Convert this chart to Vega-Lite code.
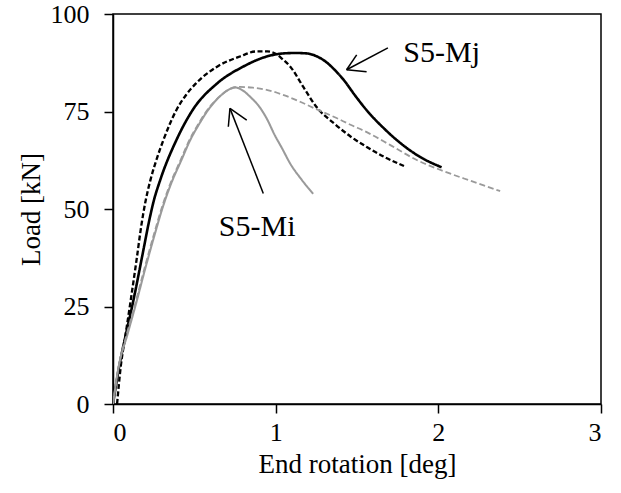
{
  "$schema": "https://vega.github.io/schema/vega-lite/v6.json",
  "width": 488,
  "height": 390,
  "autosize": {"type": "none"},
  "padding": {"left": 113, "top": 14, "right": 20, "bottom": 89},
  "background": "white",
  "config": {
    "view": {"stroke": "black", "strokeWidth": 1.5},
    "axis": {
      "grid": false,
      "domainColor": "black",
      "domainWidth": 1.5,
      "tickColor": "black",
      "tickWidth": 1.5,
      "tickSize": 9,
      "labelFont": "Liberation Serif",
      "labelFontSize": 26,
      "labelColor": "black",
      "titleFont": "Liberation Serif",
      "titleFontSize": 27,
      "titleFontWeight": "normal",
      "titleColor": "black"
    }
  },
  "datasets": {
    "curves": [
      {"series": "Mj test", "i": 0, "rot": 0.0, "load": 0},
      {"series": "Mj test", "i": 1, "rot": 0.037, "load": 9.4},
      {"series": "Mj test", "i": 2, "rot": 0.08, "load": 18},
      {"series": "Mj test", "i": 3, "rot": 0.12, "load": 25.5},
      {"series": "Mj test", "i": 4, "rot": 0.18, "load": 38},
      {"series": "Mj test", "i": 5, "rot": 0.22, "load": 46.5},
      {"series": "Mj test", "i": 6, "rot": 0.25, "load": 52},
      {"series": "Mj test", "i": 7, "rot": 0.29, "load": 57.4},
      {"series": "Mj test", "i": 8, "rot": 0.39, "load": 67.7},
      {"series": "Mj test", "i": 9, "rot": 0.49, "load": 75.4},
      {"series": "Mj test", "i": 10, "rot": 0.64, "load": 82.2},
      {"series": "Mj test", "i": 11, "rot": 0.8, "load": 86.5},
      {"series": "Mj test", "i": 12, "rot": 0.945, "load": 89.1},
      {"series": "Mj test", "i": 13, "rot": 1.05, "load": 89.9},
      {"series": "Mj test", "i": 14, "rot": 1.12, "load": 90},
      {"series": "Mj test", "i": 15, "rot": 1.19, "load": 89.9},
      {"series": "Mj test", "i": 16, "rot": 1.26, "load": 89},
      {"series": "Mj test", "i": 17, "rot": 1.31, "load": 87.7},
      {"series": "Mj test", "i": 18, "rot": 1.36, "load": 85.8},
      {"series": "Mj test", "i": 19, "rot": 1.42, "load": 83},
      {"series": "Mj test", "i": 20, "rot": 1.49, "load": 79},
      {"series": "Mj test", "i": 21, "rot": 1.56, "load": 75.3},
      {"series": "Mj test", "i": 22, "rot": 1.67, "load": 70.5},
      {"series": "Mj test", "i": 23, "rot": 1.77, "load": 66.8},
      {"series": "Mj test", "i": 24, "rot": 1.89, "load": 63.3},
      {"series": "Mj test", "i": 25, "rot": 2.02, "load": 60.7},

      {"series": "Mj model", "i": 0, "rot": 0.025, "load": 0},
      {"series": "Mj model", "i": 1, "rot": 0.047, "load": 9.4},
      {"series": "Mj model", "i": 2, "rot": 0.078, "load": 18},
      {"series": "Mj model", "i": 3, "rot": 0.105, "load": 25.5},
      {"series": "Mj model", "i": 4, "rot": 0.145, "load": 37},
      {"series": "Mj model", "i": 5, "rot": 0.175, "load": 46},
      {"series": "Mj model", "i": 6, "rot": 0.2, "load": 52},
      {"series": "Mj model", "i": 7, "rot": 0.23, "load": 57.4},
      {"series": "Mj model", "i": 8, "rot": 0.27, "load": 63},
      {"series": "Mj model", "i": 9, "rot": 0.31, "load": 67.7},
      {"series": "Mj model", "i": 10, "rot": 0.39, "load": 75.4},
      {"series": "Mj model", "i": 11, "rot": 0.45, "load": 79.3},
      {"series": "Mj model", "i": 12, "rot": 0.51, "load": 82.2},
      {"series": "Mj model", "i": 13, "rot": 0.64, "load": 86.5},
      {"series": "Mj model", "i": 14, "rot": 0.78, "load": 89.1},
      {"series": "Mj model", "i": 15, "rot": 0.88, "load": 90.4},
      {"series": "Mj model", "i": 16, "rot": 0.95, "load": 90.4},
      {"series": "Mj model", "i": 17, "rot": 1.0, "load": 89.8},
      {"series": "Mj model", "i": 18, "rot": 1.04, "load": 88.5},
      {"series": "Mj model", "i": 19, "rot": 1.09, "load": 86.5},
      {"series": "Mj model", "i": 20, "rot": 1.17, "load": 81.3},
      {"series": "Mj model", "i": 21, "rot": 1.25, "load": 76.2},
      {"series": "Mj model", "i": 22, "rot": 1.36, "load": 71.9},
      {"series": "Mj model", "i": 23, "rot": 1.46, "load": 68.6},
      {"series": "Mj model", "i": 24, "rot": 1.56, "load": 65.9},
      {"series": "Mj model", "i": 25, "rot": 1.67, "load": 63.3},
      {"series": "Mj model", "i": 26, "rot": 1.79, "load": 61},

      {"series": "Mi test", "i": 0, "rot": 0.0, "load": 0},
      {"series": "Mi test", "i": 1, "rot": 0.034, "load": 9.4},
      {"series": "Mi test", "i": 2, "rot": 0.09, "load": 18},
      {"series": "Mi test", "i": 3, "rot": 0.14, "load": 25.5},
      {"series": "Mi test", "i": 4, "rot": 0.2, "load": 35},
      {"series": "Mi test", "i": 5, "rot": 0.26, "load": 44},
      {"series": "Mi test", "i": 6, "rot": 0.31, "load": 51},
      {"series": "Mi test", "i": 7, "rot": 0.36, "load": 56.8},
      {"series": "Mi test", "i": 8, "rot": 0.42, "load": 62.5},
      {"series": "Mi test", "i": 9, "rot": 0.475, "load": 67.7},
      {"series": "Mi test", "i": 10, "rot": 0.53, "load": 71.8},
      {"series": "Mi test", "i": 11, "rot": 0.585, "load": 75.4},
      {"series": "Mi test", "i": 12, "rot": 0.66, "load": 79},
      {"series": "Mi test", "i": 13, "rot": 0.72, "load": 80.8},
      {"series": "Mi test", "i": 14, "rot": 0.75, "load": 81.2},
      {"series": "Mi test", "i": 15, "rot": 0.79, "load": 80.6},
      {"series": "Mi test", "i": 16, "rot": 0.85, "load": 78.5},
      {"series": "Mi test", "i": 17, "rot": 0.9, "load": 76.2},
      {"series": "Mi test", "i": 18, "rot": 0.95, "load": 72.8},
      {"series": "Mi test", "i": 19, "rot": 0.99, "load": 69.3},
      {"series": "Mi test", "i": 20, "rot": 1.04, "load": 65.5},
      {"series": "Mi test", "i": 21, "rot": 1.09, "load": 61.6},
      {"series": "Mi test", "i": 22, "rot": 1.16, "load": 57.5},
      {"series": "Mi test", "i": 23, "rot": 1.23, "load": 53.9},

      {"series": "Mi model", "i": 0, "rot": 0.0, "load": 0},
      {"series": "Mi model", "i": 1, "rot": 0.034, "load": 9.4},
      {"series": "Mi model", "i": 2, "rot": 0.085, "load": 18},
      {"series": "Mi model", "i": 3, "rot": 0.135, "load": 25.5},
      {"series": "Mi model", "i": 4, "rot": 0.195, "load": 35},
      {"series": "Mi model", "i": 5, "rot": 0.255, "load": 44},
      {"series": "Mi model", "i": 6, "rot": 0.305, "load": 51},
      {"series": "Mi model", "i": 7, "rot": 0.355, "load": 56.8},
      {"series": "Mi model", "i": 8, "rot": 0.415, "load": 62.5},
      {"series": "Mi model", "i": 9, "rot": 0.47, "load": 67.7},
      {"series": "Mi model", "i": 10, "rot": 0.525, "load": 71.8},
      {"series": "Mi model", "i": 11, "rot": 0.58, "load": 75.4},
      {"series": "Mi model", "i": 12, "rot": 0.66, "load": 79},
      {"series": "Mi model", "i": 13, "rot": 0.72, "load": 80.8},
      {"series": "Mi model", "i": 14, "rot": 0.78, "load": 81.3},
      {"series": "Mi model", "i": 15, "rot": 0.86, "load": 81.1},
      {"series": "Mi model", "i": 16, "rot": 0.95, "load": 80.5},
      {"series": "Mi model", "i": 17, "rot": 1.05, "load": 79.2},
      {"series": "Mi model", "i": 18, "rot": 1.15, "load": 77.5},
      {"series": "Mi model", "i": 19, "rot": 1.25, "load": 75.6},
      {"series": "Mi model", "i": 20, "rot": 1.36, "load": 73.6},
      {"series": "Mi model", "i": 21, "rot": 1.46, "load": 71.6},
      {"series": "Mi model", "i": 22, "rot": 1.56, "load": 69.7},
      {"series": "Mi model", "i": 23, "rot": 1.7, "load": 66.5},
      {"series": "Mi model", "i": 24, "rot": 1.87, "load": 62.5},
      {"series": "Mi model", "i": 25, "rot": 2.02, "load": 59.9},
      {"series": "Mi model", "i": 26, "rot": 2.2, "load": 57.2},
      {"series": "Mi model", "i": 27, "rot": 2.38, "load": 54.6}
    ],
    "arrows": [
      {"rot": 1.69, "load": 91.3, "rot2": 1.436, "load2": 85.7},
      {"rot": 1.436, "load": 85.7, "rot2": 1.498, "load2": 89.5},
      {"rot": 1.436, "load": 85.7, "rot2": 1.559, "load2": 85.2},
      {"rot": 0.924, "load": 54.0, "rot2": 0.719, "load2": 75.8},
      {"rot": 0.719, "load": 75.8, "rot2": 0.709, "load2": 71.1},
      {"rot": 0.719, "load": 75.8, "rot2": 0.822, "load2": 72.8}
    ],
    "labels": [
      {"text": "S5-Mj", "rot": 1.785, "load": 87.7, "align": "left"},
      {"text": "S5-Mi", "rot": 0.886, "load": 43.2, "align": "center"}
    ]
  },
  "layer": [
    {
      "data": {"name": "curves"},
      "mark": {"type": "line", "clip": true, "interpolate": "monotone"},
      "encoding": {
        "x": {
          "field": "rot", "type": "quantitative",
          "scale": {"domain": [0, 3], "nice": false},
          "axis": {"values": [0, 1, 2, 3], "title": "End rotation [deg]", "labelPadding": 6, "titlePadding": 6, "format": "d"}
        },
        "y": {
          "field": "load", "type": "quantitative",
          "scale": {"domain": [0, 100], "nice": false},
          "axis": {"values": [0, 25, 50, 75, 100], "title": "Load [kN]", "labelPadding": 15, "titlePadding": 5}
        },
        "detail": {"field": "series"},
        "order": {"field": "i", "type": "quantitative"},
        "color": {
          "field": "series", "type": "nominal", "legend": null,
          "scale": {"domain": ["Mi model", "Mi test", "Mj model", "Mj test"], "range": ["#9a9a9a", "#9a9a9a", "black", "black"]}
        },
        "strokeDash": {
          "field": "series", "type": "nominal", "legend": null,
          "scale": {"domain": ["Mi model", "Mi test", "Mj model", "Mj test"], "range": [[6, 3], [1, 0], [5, 2.5], [1, 0]]}
        },
        "strokeWidth": {
          "field": "series", "type": "nominal", "legend": null,
          "scale": {"domain": ["Mi model", "Mi test", "Mj model", "Mj test"], "range": [1.8, 2.6, 1.8, 1.7]}
        }
      }
    },
    {
      "data": {"name": "arrows"},
      "mark": {"type": "rule", "color": "black", "strokeWidth": 1.5},
      "encoding": {
        "x": {"field": "rot", "type": "quantitative"},
        "y": {"field": "load", "type": "quantitative"},
        "x2": {"field": "rot2"},
        "y2": {"field": "load2"}
      }
    },
    {
      "data": {"name": "labels"},
      "transform": [{"filter": "datum.align == 'left'"}],
      "mark": {"type": "text", "font": "Liberation Serif", "fontSize": 30, "align": "left", "baseline": "alphabetic", "color": "black"},
      "encoding": {
        "x": {"field": "rot", "type": "quantitative"},
        "y": {"field": "load", "type": "quantitative"},
        "text": {"field": "text"}
      }
    },
    {
      "data": {"name": "labels"},
      "transform": [{"filter": "datum.align == 'center'"}],
      "mark": {"type": "text", "font": "Liberation Serif", "fontSize": 30, "align": "center", "baseline": "alphabetic", "color": "black"},
      "encoding": {
        "x": {"field": "rot", "type": "quantitative"},
        "y": {"field": "load", "type": "quantitative"},
        "text": {"field": "text"}
      }
    }
  ]
}
